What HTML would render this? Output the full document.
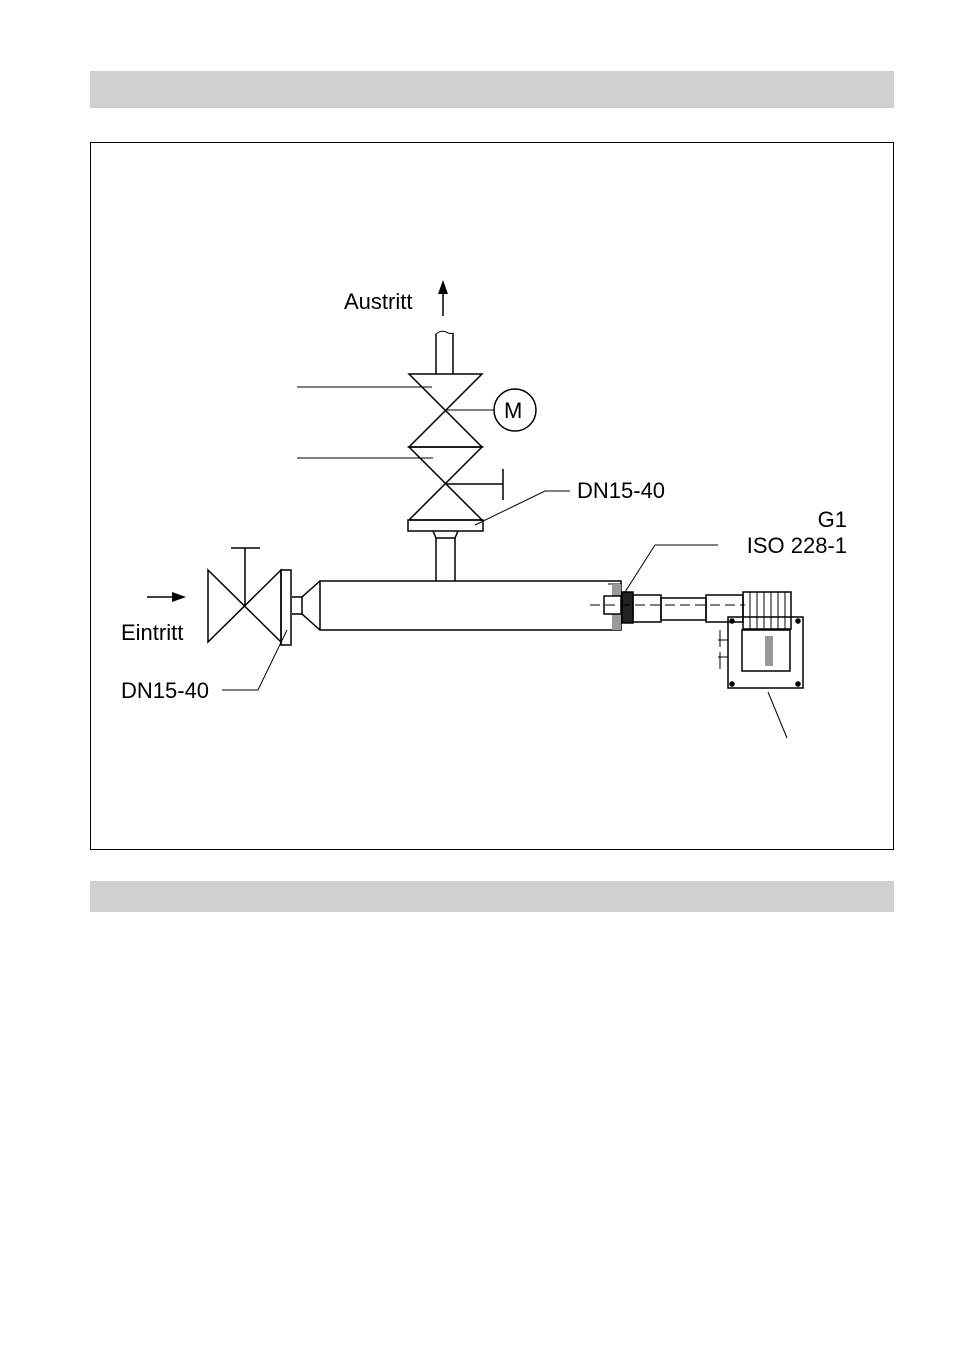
<!DOCTYPE html>
<html><head><meta charset="utf-8"><style>
html,body{margin:0;padding:0;background:#fff;}
svg{display:block;}
text{font-family:"Liberation Sans",Arial,sans-serif;font-size:22px;fill:#000;}
</style></head><body>
<svg width="953" height="1352" viewBox="0 0 953 1352" xmlns="http://www.w3.org/2000/svg">
<rect x="90" y="71" width="804" height="37" fill="#d0d0d0"/>
<rect x="90" y="881" width="804" height="31" fill="#d0d0d0"/>
<rect x="90.5" y="142.5" width="803" height="707" fill="none" stroke="#000" stroke-width="1"/>

<g fill="none" stroke="#000" stroke-width="1.5">
<line x1="443" y1="316" x2="443" y2="292"/>
<line x1="436" y1="334" x2="436" y2="374"/>
<line x1="453" y1="333" x2="453" y2="374"/>
<path d="M436 334 q6 -5 12 -1 q3 1 5 0" stroke-width="1"/>
<path d="M409 374 L482 374 L409 447 L482 447 Z"/>
<path d="M409 447 L482 447 L409 520 L482 520 Z"/>
<rect x="408" y="520" width="75" height="11"/>
<path d="M436 538 L433 531 M455 538 L458 531"/>
<line x1="436" y1="538" x2="436" y2="581"/>
<line x1="455" y1="538" x2="455" y2="581"/>
<line x1="436" y1="538" x2="455" y2="538"/>
<line x1="446" y1="410" x2="494" y2="410" stroke-width="1"/>
<circle cx="515" cy="410" r="21"/>
<line x1="446" y1="484" x2="503" y2="484"/>
<line x1="503" y1="469" x2="503" y2="500"/>
<line x1="297" y1="387" x2="432" y2="387" stroke-width="1"/>
<line x1="297" y1="458" x2="433" y2="458" stroke-width="1"/>
<path d="M475 525 L545 491 L570 491" stroke-width="1"/>

<rect x="320" y="581" width="301" height="49"/>
<path d="M320 581 L302 597 L302 614 L320 630"/>
<line x1="302" y1="597" x2="292" y2="597"/>
<line x1="302" y1="614" x2="292" y2="614"/>
<rect x="281" y="570" width="10" height="75"/>
<path d="M208 570 L281 642 L281 570 L208 642 Z"/>
<line x1="245" y1="548" x2="245" y2="606"/>
<line x1="231" y1="548" x2="260" y2="548"/>
<line x1="147" y1="597" x2="172" y2="597"/>
<path d="M222 690 L258 690 L287 630" stroke-width="1"/>

<path d="M718 545 L655 545 L625 592" stroke-width="1"/>
<path d="M608 584 L620 584 L620 630 L608 630" stroke-width="1"/>
<rect x="612" y="584" width="9" height="46" fill="#999" stroke="none"/>
<rect x="604" y="596" width="17" height="18" fill="#fff"/>
<rect x="622" y="592" width="11" height="31" fill="#222"/>
<rect x="633" y="595" width="28" height="27"/>
<rect x="661" y="598" width="45" height="22"/>
<rect x="706" y="595" width="37" height="27"/>
<path d="M590 605 L745 605" stroke-dasharray="10 5" stroke-width="1"/>
<rect x="743" y="592" width="48" height="37"/>
<path d="M750 592v37M757 592v37M764 592v37M771 592v37M778 592v37M785 592v37" stroke-width="1"/>
<rect x="728" y="617" width="75" height="71"/>
<rect x="742" y="630" width="48" height="41"/>
<rect x="765" y="636" width="8" height="30" fill="#999" stroke="none"/>
<path d="M718 640h10M718 657h10M720 630v17M720 652v17" stroke-width="1"/>
<circle cx="732" cy="621" r="2" fill="#000"/>
<circle cx="798" cy="621" r="2" fill="#000"/>
<circle cx="732" cy="684" r="2" fill="#000"/>
<circle cx="798" cy="684" r="2" fill="#000"/>
<line x1="768" y1="692" x2="787" y2="738" stroke-width="1"/>
</g>
<path d="M443 280 L438 294 L448 294 Z" fill="#000"/>
<path d="M186 597 L172 592 L172 602 Z" fill="#000"/>

<text x="344" y="309">Austritt</text>
<text x="504" y="418">M</text>
<text x="577" y="498">DN15-40</text>
<text x="847" y="527" text-anchor="end">G1</text>
<text x="847" y="553" text-anchor="end">ISO 228-1</text>
<text x="121" y="640">Eintritt</text>
<text x="121" y="698">DN15-40</text>
</svg>
</body></html>
